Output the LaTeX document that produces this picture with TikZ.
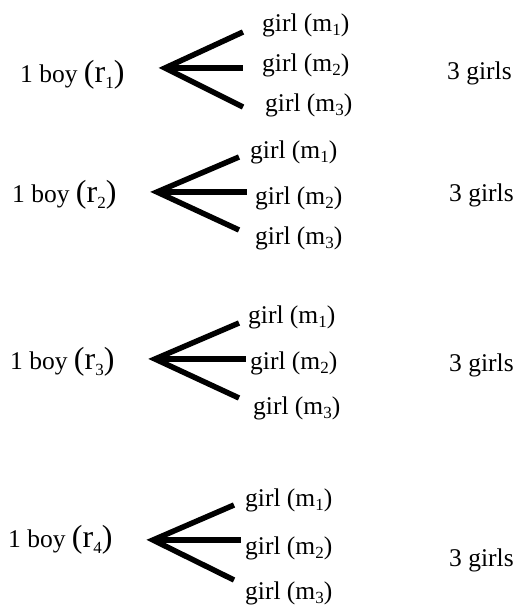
\documentclass[tikz,border=0pt]{standalone}
\usepackage{fontspec}
\setmainfont{Liberation Serif}
\newfontfamily\tnr{Liberation Serif}
\newcommand\lowsub[1]{\raisebox{-0.4ex}{\fontsize{17}{17}\selectfont #1}}
\newcommand\rlab[1]{{\fontsize{32}{33}\selectfont(r\lowsub{#1})}}
\begin{document}
\begin{tikzpicture}[x=1pt,y=-1pt,
  lbl/.style={anchor=west,inner sep=0pt,font=\tnr\fontsize{25.5}{28}\selectfont},
  fan/.style={line width=5.5pt,line join=miter,line cap=butt}]
\useasboundingbox (0,0) rectangle (515,610);
% Row 1
\node[lbl] (b1) at (20,75) {1 boy \rlab{1}};
\coordinate (v1) at (165,68);
\coordinate (t1) at (243,32);
\coordinate (c1) at (243,68);
\coordinate (d1) at (243,107);
\node[lbl] (g11) at (262,25) {girl (m\lowsub{1})};
\node[lbl] (g12) at (262,65) {girl (m\lowsub{2})};
\node[lbl] (g13) at (265,105) {girl (m\lowsub{3})};
\node[lbl] (s1) at (447,73) {3 girls};
\draw[fan] (t1) -- (v1) -- (d1);
\draw[fan] (v1) -- (c1);
% Row 2
\node[lbl] (b2) at (12,195) {1 boy \rlab{2}};
\coordinate (v2) at (157,192);
\coordinate (t2) at (239,157);
\coordinate (c2) at (247,192);
\coordinate (d2) at (239,230);
\node[lbl] (g21) at (250,152) {girl (m\lowsub{1})};
\node[lbl] (g22) at (255,198) {girl (m\lowsub{2})};
\node[lbl] (g23) at (255,238) {girl (m\lowsub{3})};
\node[lbl] (s2) at (449,195) {3 girls};
\draw[fan] (t2) -- (v2) -- (d2);
\draw[fan] (v2) -- (c2);
% Row 3
\node[lbl] (b3) at (10,362) {1 boy \rlab{3}};
\coordinate (v3) at (155,359);
\coordinate (t3) at (239,323);
\coordinate (c3) at (246,359);
\coordinate (d3) at (239,398);
\node[lbl] (g31) at (248,317) {girl (m\lowsub{1})};
\node[lbl] (g32) at (250,363) {girl (m\lowsub{2})};
\node[lbl] (g33) at (253,408) {girl (m\lowsub{3})};
\node[lbl] (s3) at (449,365) {3 girls};
\draw[fan] (t3) -- (v3) -- (d3);
\draw[fan] (v3) -- (c3);
% Row 4
\node[lbl] (b4) at (8,540) {1 boy \rlab{4}};
\coordinate (v4) at (153,540);
\coordinate (t4) at (234,505);
\coordinate (c4) at (241,540);
\coordinate (d4) at (234,580);
\node[lbl] (g41) at (245,500) {girl (m\lowsub{1})};
\node[lbl] (g42) at (245,548) {girl (m\lowsub{2})};
\node[lbl] (g43) at (245,593) {girl (m\lowsub{3})};
\node[lbl] (s4) at (449,560) {3 girls};
\draw[fan] (t4) -- (v4) -- (d4);
\draw[fan] (v4) -- (c4);
\end{tikzpicture}
\end{document}
